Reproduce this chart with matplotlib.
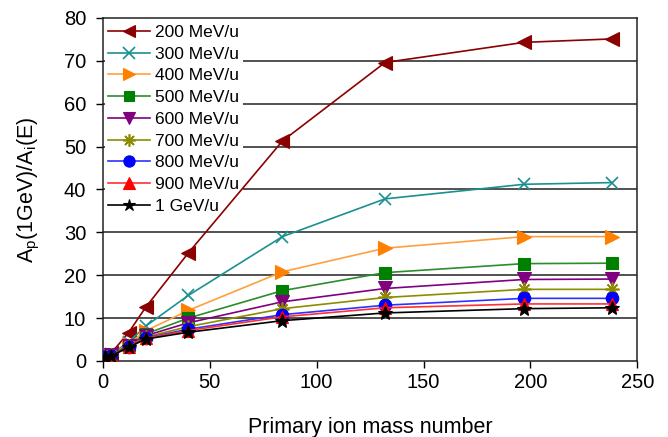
import matplotlib
matplotlib.use("Agg")
import matplotlib.pyplot as plt

plt.rcParams['font.family'] = ['Liberation Sans', 'DejaVu Sans']
plt.rcParams['mathtext.fontset'] = 'custom'
plt.rcParams['mathtext.rm'] = 'Liberation Sans'
plt.rcParams['mathtext.it'] = 'Liberation Sans'

mass = [1, 4, 12, 20, 40, 84, 132, 197, 238]
labels = ["200 MeV/u", "300 MeV/u", "400 MeV/u", "500 MeV/u", "600 MeV/u",
          "700 MeV/u", "800 MeV/u", "900 MeV/u", "1 GeV/u"]
e200 = [1.0, 1.9, 6.6, 12.5, 25.2, 51.3, 69.6, 74.3, 75.1]
e300 = [1.0, 1.6, 4.4, 8.1, 15.3, 29.0, 37.8, 41.2, 41.6]
e400 = [1.0, 1.5, 4.0, 7.0, 11.8, 20.8, 26.3, 29.0, 29.0]
e500 = [1.0, 1.4, 3.7, 6.3, 10.0, 16.4, 20.6, 22.7, 22.8]
e600 = [1.0, 1.3, 3.5, 5.9, 8.9, 13.8, 16.9, 19.0, 19.1]
e700 = [1.0, 1.3, 3.4, 5.6, 8.0, 12.2, 14.8, 16.7, 16.7]
e800 = [1.0, 1.2, 3.3, 5.4, 7.4, 10.8, 13.0, 14.6, 14.6]
e900 = [1.0, 1.2, 3.3, 5.3, 7.1, 10.3, 12.4, 13.3, 13.3]
e1000 = [1.0, 1.2, 3.2, 5.1, 6.7, 9.4, 11.2, 12.2, 12.4]
series = [e200, e300, e400, e500, e600, e700, e800, e900, e1000]

colors = ["#8b0000", "#1a9090", "#ff8000", "#008000", "#800080",
          "#8c8c00", "#0000ff", "#ff0000", "#000000"]
linecolors = ["#8b0000", "#1a9090", "#ffa040", "#2e8b2e", "#800080",
              "#8c8c00", "#3030ff", "#ff3030", "#000000"]
markers = ["<", "x", ">", "s", "v", (8, 2, 0), "o", "^", "*"]
msizes = [10, 9, 10, 8, 10, 10, 9, 9, 10]

fig = plt.figure(figsize=(6.68, 4.37), dpi=100)
ax = fig.add_axes([0.154, 0.174, 0.800, 0.785])

for y in range(10, 80, 10):
    ax.axhline(y, color="#222222", lw=1.1, zorder=0)

for vals, lab, c, lc, m, ms in zip(series, labels, colors, linecolors, markers, msizes):
    ax.plot(mass, vals, color=lc, lw=1.2, marker=m, markersize=ms,
            markerfacecolor=c, markeredgecolor=c,
            markeredgewidth=1.2 if m in ("x", (8, 2, 0)) else 0.8,
            label=lab, zorder=3)

ax.set_xlim(0, 250)
ax.set_ylim(0, 80)
ax.set_xticks([0, 50, 100, 150, 200, 250])
ax.set_yticks(range(0, 81, 10))
ax.tick_params(direction="out", length=5, width=1, labelsize=14.5, colors="black")
ax.tick_params(axis="y", pad=7)
for s in ax.spines.values():
    s.set_color("#222222")
    s.set_linewidth(1.1)

ax.set_xlabel("Primary ion mass number", fontsize=15.5, labelpad=18)
ax.set_ylabel("A$_\\mathregular{p}$(1GeV)/A$_\\mathregular{i}$(E)", fontsize=15.5, labelpad=16)

leg = ax.legend(loc="upper left", bbox_to_anchor=(0.0, 0.995), frameon=True,
                fontsize=12.5, handlelength=2.4, handletextpad=0.3,
                labelspacing=0.38, borderpad=0.2, borderaxespad=0.1,
                markerscale=0.9)
leg.get_frame().set_facecolor("white")
leg.get_frame().set_edgecolor("none")
leg.get_frame().set_alpha(1)
leg.set_zorder(1)

fig.savefig("out.png", dpi=100)
